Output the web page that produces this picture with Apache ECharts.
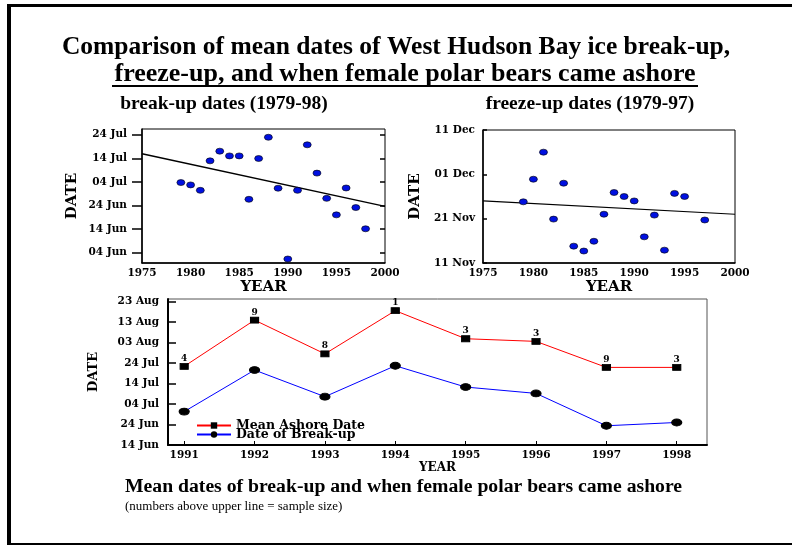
<!DOCTYPE html>
<html>
<head>
<meta charset="utf-8">
<script src="https://cdn.jsdelivr.net/npm/echarts@6/dist/echarts.min.js"></script>
<style>
html,body{margin:0;padding:0;background:#fff;}
#main{width:792px;height:546px;}
</style>
</head>
<body>
<div id="main"></div>
<script>
// all dates are day-of-year (1 Jan = 1)
// break-up dates scatter 1979-98
const breakYears = [1979,1980,1981,1982,1983,1984,1985,1986,1987,1988,1989,1990,1991,1992,1993,1994,1995,1996,1997,1998];
const breakDays = [184.7,183.7,181.4,193.9,198,196,196,177.6,194.9,203.9,182.3,152.3,181.4,200.7,188.7,178,171,182.4,174.1,165.1];
const breakTrendYears = [1975,2000];
const breakTrendDays = [196.9,174.6];
const breakTickDays = [155,165,175,185,195,205];
const breakTickLabels = ['04 Jun','14 Jun','24 Jun','04 Jul','14 Jul','24 Jul'];

// freeze-up dates scatter 1979-97
const freezeYears = [1979,1980,1981,1982,1983,1984,1985,1986,1987,1988,1989,1990,1991,1992,1993,1994,1995,1997];
const freezeDays = [328.8,333.9,340.0,324.9,333.0,318.8,317.7,319.9,326.0,330.9,330.0,329.0,320.9,325.8,317.9,330.7,330.0,324.7];
const freezeTrendYears = [1975,2000];
const freezeTrendDays = [329.0,326.0];
const freezeTickDays = [315,325,335,345];
const freezeTickLabels = ['11 Nov','21 Nov','01 Dec','11 Dec'];

const yearTicks = [1975,1980,1985,1990,1995,2000];

// bottom chart 1991-98
const meanYears = [1991,1992,1993,1994,1995,1996,1997,1998];
const ashoreDays = [203.4,226.0,209.5,230.6,216.9,215.6,202.9,202.9];
const breakupMeanDays = [181.3,201.6,188.6,203.7,193.3,190.2,174.4,176.0];
const sampleSizes = [4,9,8,1,3,3,9,3];
const meanTickDays = [165,175,185,195,205,215,225,235];
const meanTickLabels = ['14 Jun','24 Jun','04 Jul','14 Jul','24 Jul','03 Aug','13 Aug','23 Aug'];

const serif = 'DejaVu Serif';
const titleFont = 'Liberation Serif';

function dayLabel(days, labels) {
    return function (v) {
        const i = days.indexOf(v);
        return i >= 0 ? labels[i] : '';
    };
}
function pairs(xs, ys) {
    return xs.map((x, i) => [x, ys[i]]);
}
const yearLabel = v => String(v);

const tickText = {color: '#000', fontFamily: serif, fontWeight: 'bold', fontSize: 10.5};
const nameText = {color: '#000', fontFamily: serif, fontWeight: 'bold', fontSize: 15};

let chart = echarts.init(document.getElementById('main'));

let option = {
    backgroundColor: '#fff',
    animation: false,
    grid: [
        {left: 142, top: 129, width: 243, height: 134, show: true, borderColor: '#000', borderWidth: 1},
        {left: 483, top: 130, width: 252, height: 133, show: true, borderColor: '#000', borderWidth: 1},
        {left: 168, top: 299, width: 539, height: 146, show: true, borderColor: '#555', borderWidth: 1}
    ],
    xAxis: [
        {
            gridIndex: 0, type: 'value', min: 1975, max: 2000,
            name: 'YEAR', nameLocation: 'middle', nameGap: 11, nameTextStyle: nameText,
            axisLine: {lineStyle: {color: '#000', width: 1.5}},
            axisTick: {show: false},
            splitLine: {show: false},
            axisLabel: Object.assign({customValues: yearTicks, margin: 5, formatter: yearLabel}, tickText)
        },
        {
            gridIndex: 1, type: 'value', min: 1975, max: 2000,
            name: 'YEAR', nameLocation: 'middle', nameGap: 15, nameTextStyle: nameText,
            axisLine: {lineStyle: {color: '#000', width: 1.5}},
            axisTick: {show: false},
            splitLine: {show: false},
            axisLabel: Object.assign({customValues: yearTicks, margin: 5, formatter: yearLabel}, tickText)
        },
        {
            gridIndex: 2, type: 'value', min: 1990.77, max: 1998.43,
            name: 'YEAR', nameLocation: 'middle', nameGap: 10, nameTextStyle: Object.assign({}, nameText, {fontSize: 12}),
            axisLine: {lineStyle: {color: '#000', width: 2}},
            axisTick: {inside: true, length: 4, customValues: meanYears, lineStyle: {color: '#000'}},
            splitLine: {show: false},
            axisLabel: Object.assign({customValues: meanYears, margin: 5, formatter: yearLabel}, tickText)
        }
    ],
    yAxis: [
        {
            gridIndex: 0, type: 'value', min: 150.6, max: 207.4,
            name: 'DATE', nameLocation: 'middle', nameGap: 62, nameTextStyle: nameText,
            axisLine: {show: true, lineStyle: {color: '#000', width: 1.5}},
            axisTick: {show: true, length: 10, customValues: breakTickDays, lineStyle: {color: '#000', width: 1.5}},
            splitLine: {show: false},
            axisLabel: Object.assign({customValues: breakTickDays, margin: 15, formatter: dayLabel(breakTickDays, breakTickLabels)}, tickText)
        },
        {
            // inner half of the crossing ticks
            gridIndex: 0, type: 'value', min: 150.6, max: 207.4,
            axisLine: {show: false},
            axisTick: {show: true, inside: true, length: 5, customValues: breakTickDays, lineStyle: {color: '#000', width: 1.5}},
            splitLine: {show: false},
            axisLabel: {show: false}
        },
        {
            gridIndex: 1, type: 'value', min: 315, max: 345,
            name: 'DATE', nameLocation: 'middle', nameGap: 60, nameTextStyle: nameText,
            axisLine: {show: true, lineStyle: {color: '#000', width: 1.5}},
            axisTick: {show: true, inside: true, length: 4, customValues: freezeTickDays, lineStyle: {color: '#000', width: 1.5}},
            splitLine: {show: false},
            axisLabel: Object.assign({customValues: freezeTickDays, margin: 8, formatter: dayLabel(freezeTickDays, freezeTickLabels)}, tickText)
        },
        {
            gridIndex: 2, type: 'value', min: 165, max: 236.3,
            name: 'DATE', nameLocation: 'middle', nameGap: 68, nameTextStyle: Object.assign({}, nameText, {fontSize: 13}),
            axisLine: {show: true, lineStyle: {color: '#000', width: 2}},
            axisTick: {show: true, inside: true, length: 8, customValues: meanTickDays, lineStyle: {color: '#000', width: 1.5}},
            splitLine: {show: false},
            axisLabel: Object.assign({customValues: meanTickDays, margin: 9, formatter: dayLabel(meanTickDays, meanTickLabels)}, tickText)
        }
    ],
    legend: {
        orient: 'vertical',
        left: 196, top: 419,
        padding: 0,
        itemWidth: 34, itemHeight: 8, itemGap: -4,
        data: ['Mean Ashore Date', 'Date of Break-up'],
        textStyle: {color: '#000', fontFamily: serif, fontWeight: 'bold', fontSize: 12.5, lineHeight: 8}
    },
    series: [
        {
            type: 'line', xAxisIndex: 0, yAxisIndex: 0, data: pairs(breakTrendYears, breakTrendDays),
            symbol: 'none', lineStyle: {color: '#000', width: 1.5}, z: 2
        },
        {
            type: 'scatter', xAxisIndex: 0, yAxisIndex: 0, data: pairs(breakYears, breakDays),
            symbol: 'circle', symbolSize: [8, 6],
            itemStyle: {color: '#0010e0', borderColor: '#000', borderWidth: 0.6, opacity: 1}, z: 3
        },
        {
            type: 'line', xAxisIndex: 1, yAxisIndex: 2, data: pairs(freezeTrendYears, freezeTrendDays),
            symbol: 'none', lineStyle: {color: '#000', width: 1.2}, z: 2
        },
        {
            type: 'scatter', xAxisIndex: 1, yAxisIndex: 2, data: pairs(freezeYears, freezeDays),
            symbol: 'circle', symbolSize: [8, 6],
            itemStyle: {color: '#0010e0', borderColor: '#000', borderWidth: 0.6, opacity: 1}, z: 3
        },
        {
            name: 'Mean Ashore Date',
            type: 'line', xAxisIndex: 2, yAxisIndex: 3, data: pairs(meanYears, ashoreDays),
            symbol: 'rect', symbolSize: [8, 6], showAllSymbol: true,
            lineStyle: {color: '#ff0000', width: 1},
            itemStyle: {color: '#000', borderColor: '#000'},
            label: {
                show: true, position: 'top', distance: 0,
                formatter: p => String(sampleSizes[p.dataIndex]),
                color: '#000', fontFamily: serif, fontWeight: 'bold', fontSize: 9
            }
        },
        {
            name: 'Date of Break-up',
            type: 'line', xAxisIndex: 2, yAxisIndex: 3, data: pairs(meanYears, breakupMeanDays),
            symbol: 'circle', symbolSize: [10, 7], showAllSymbol: true,
            lineStyle: {color: '#0000ff', width: 1},
            itemStyle: {color: '#000', borderColor: '#000'}
        }
    ],
    graphic: [
        // page frame
        {type: 'rect', shape: {x: 7, y: 4, width: 4, height: 541}, style: {fill: '#000'}},
        {type: 'rect', shape: {x: 7, y: 4, width: 785, height: 3}, style: {fill: '#000'}},
        {type: 'rect', shape: {x: 7, y: 543, width: 785, height: 2}, style: {fill: '#000'}},
        {type: 'text', style: {text: 'Comparison of mean dates of West Hudson Bay ice break-up,', x: 396, y: 47,
            align: 'center', verticalAlign: 'middle', fill: '#000', font: 'bold 25.5px "' + titleFont + '"'}},
        {type: 'text', style: {text: 'freeze-up, and when female polar bears came ashore', x: 405, y: 74,
            align: 'center', verticalAlign: 'middle', fill: '#000', font: 'bold 26px "' + titleFont + '"'}},
        {type: 'rect', shape: {x: 112, y: 85, width: 586, height: 2}, style: {fill: '#000'}},
        {type: 'text', style: {text: 'break-up dates (1979-98)', x: 224, y: 104,
            align: 'center', verticalAlign: 'middle', fill: '#000', font: 'bold 19.5px "' + titleFont + '"'}},
        {type: 'text', style: {text: 'freeze-up dates (1979-97)', x: 590, y: 104,
            align: 'center', verticalAlign: 'middle', fill: '#000', font: 'bold 19.5px "' + titleFont + '"'}},
        {type: 'text', style: {text: 'Mean dates of break-up and when female polar bears came ashore', x: 125, y: 487,
            align: 'left', verticalAlign: 'middle', fill: '#000', font: 'bold 19.7px "' + titleFont + '"'}},
        {type: 'text', style: {text: '(numbers above upper line = sample size)', x: 125, y: 507,
            align: 'left', verticalAlign: 'middle', fill: '#000', font: '13px "' + titleFont + '"'}}
    ]
};
chart.setOption(option);
</script>
</body>
</html>
